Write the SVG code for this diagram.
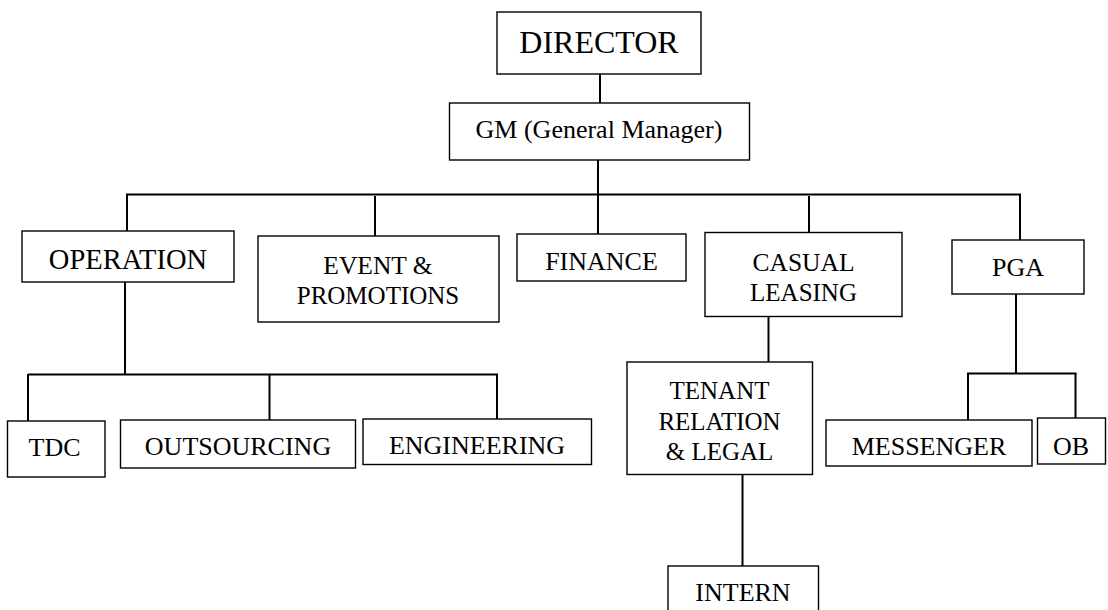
<svg xmlns="http://www.w3.org/2000/svg" width="1108" height="610" viewBox="0 0 1108 610" font-family="Liberation Serif, Times New Roman, Times, serif">
<style>
  .box { fill: #ffffff; stroke: #000000; stroke-width: 1.4; }
  .lbl { font-family: 'Liberation Serif', 'Times New Roman', Times, serif; font-size: 26px; fill: #000000; text-anchor: middle; }
  .conn line { stroke: #000000; stroke-width: 2; }
</style>
<rect x="0" y="0" width="1108" height="610" fill="#ffffff"/>
<g id="connectors" class="conn">
  <line x1="600" y1="74" x2="600" y2="103"/>
  <line x1="598" y1="160" x2="598" y2="234"/>
  <line x1="126" y1="194.5" x2="1021" y2="194.5"/>
  <line x1="127" y1="194" x2="127" y2="231"/>
  <line x1="375" y1="196" x2="375" y2="236"/>
  <line x1="809" y1="196" x2="809" y2="232"/>
  <line x1="1020" y1="194" x2="1020" y2="240"/>
  <line x1="125" y1="282" x2="125" y2="374"/>
  <line x1="28" y1="374.5" x2="498" y2="374.5"/>
  <line x1="28" y1="374" x2="28" y2="421"/>
  <line x1="269.5" y1="374" x2="269.5" y2="420"/>
  <line x1="497" y1="374" x2="497" y2="419"/>
  <line x1="768.5" y1="316" x2="768.5" y2="362"/>
  <line x1="742.5" y1="472" x2="742.5" y2="566"/>
  <line x1="1016" y1="294" x2="1016" y2="373.5"/>
  <line x1="967" y1="373.5" x2="1076.5" y2="373.5"/>
  <line x1="968" y1="373" x2="968" y2="420"/>
  <line x1="1075.5" y1="373" x2="1075.5" y2="418"/>
</g>
<g id="director">
  <rect class="box" x="497" y="12" width="204" height="62"/>
  <text class="lbl" x="599" y="53" style="font-size:32px">DIRECTOR</text>
</g>
<g id="gm">
  <rect class="box" x="449.5" y="103" width="300" height="57"/>
  <text class="lbl" x="599" y="138">GM (General Manager)</text>
</g>
<g id="operation">
  <rect class="box" x="22" y="231" width="212" height="51"/>
  <text class="lbl" x="128" y="268.5" style="font-size:28.5px">OPERATION</text>
</g>
<g id="event-promotions">
  <rect class="box" x="258" y="236" width="241" height="86"/>
  <text class="lbl" x="378" y="273.5" style="font-size:25.5px">EVENT &amp;</text>
  <text class="lbl" x="378" y="303.5" style="font-size:25px">PROMOTIONS</text>
</g>
<g id="finance">
  <rect class="box" x="517" y="234" width="169" height="47"/>
  <text class="lbl" x="601.5" y="269.5">FINANCE</text>
</g>
<g id="casual-leasing">
  <rect class="box" x="705" y="232.5" width="197" height="84"/>
  <text class="lbl" x="803.5" y="270.5" style="font-size:25.5px">CASUAL</text>
  <text class="lbl" x="803.5" y="300.5" style="font-size:25px">LEASING</text>
</g>
<g id="pga">
  <rect class="box" x="952" y="240" width="132" height="54"/>
  <text class="lbl" x="1018" y="276">PGA</text>
</g>
<g id="tdc">
  <rect class="box" x="7.5" y="421" width="97.5" height="56"/>
  <text class="lbl" x="54.5" y="456">TDC</text>
</g>
<g id="outsourcing">
  <rect class="box" x="120.5" y="420" width="235" height="48"/>
  <text class="lbl" x="238" y="455">OUTSOURCING</text>
</g>
<g id="engineering">
  <rect class="box" x="363" y="419" width="228.5" height="45.5"/>
  <text class="lbl" x="477" y="454">ENGINEERING</text>
</g>
<g id="tenant-relation-legal">
  <rect class="box" x="627" y="362" width="185.5" height="112.5"/>
  <text class="lbl" x="719.5" y="398.5" style="font-size:25px">TENANT</text>
  <text class="lbl" x="719.5" y="430" style="font-size:25px">RELATION</text>
  <text class="lbl" x="719.5" y="459.5" style="font-size:25px">&amp; LEGAL</text>
</g>
<g id="intern">
  <rect class="box" x="668" y="566" width="150.5" height="50"/>
  <text class="lbl" x="743" y="600.5">INTERN</text>
</g>
<g id="messenger">
  <rect class="box" x="826" y="420" width="206" height="46"/>
  <text class="lbl" x="929" y="455">MESSENGER</text>
</g>
<g id="ob">
  <rect class="box" x="1037.5" y="418" width="68" height="46"/>
  <text class="lbl" x="1071" y="454.5">OB</text>
</g>
</svg>
